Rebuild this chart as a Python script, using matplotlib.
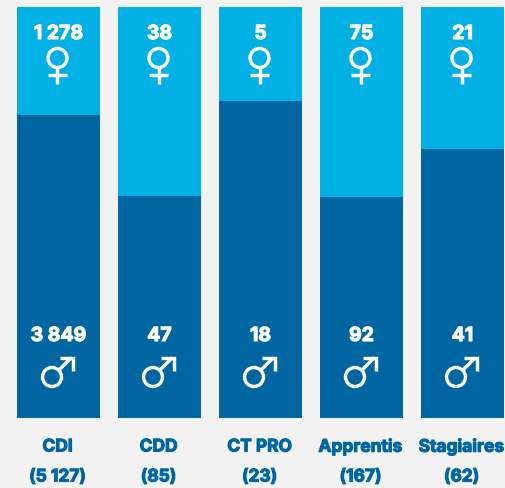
import matplotlib.pyplot as plt
import matplotlib.patheffects as pe
from matplotlib.patches import Circle
from matplotlib.transforms import Affine2D, ScaledTranslation

plt.rcParams['font.family'] = ['Inter', 'DejaVu Sans']

categories = ['CDI', 'CDD', 'CT PRO', 'Apprentis', 'Stagiaires']
totals = ['(5 127)', '(85)', '(23)', '(167)', '(62)']
women_labels = ['1 278', '38', '5', '75', '21']
men_labels = ['3 849', '47', '18', '92', '41']
# drawn share of the bar (in %)
men_share = [73.7, 54.0, 77.1, 53.8, 65.5]
women_share = [26.3, 46.0, 22.9, 46.2, 34.5]

BG = '#f2f2f2'
LIGHT = '#00b0e4'
DARK = '#0066a1'
PX = 0.72  # 1 px in points at dpi 100
LW = 3.4 * PX


def label(ax, txt, x, y, dx, dy, color, size):
    t = ax.annotate(txt, xy=(x, y), xytext=(dx * PX, dy * PX), textcoords='offset points',
                    ha='center', va='center', color=color, fontsize=size, fontweight='bold')
    # the original font is heavier than anything installed
    t.set_path_effects([pe.withStroke(linewidth=0.8, foreground=color)])


def line(ax, xs, ys, tr):
    ax.plot(xs, ys, color='white', lw=LW, transform=tr, solid_capstyle='butt',
            solid_joinstyle='miter', clip_on=False)


def venus(ax, x, y):
    # y offsets in px, measured down from the top of the bar
    tr = Affine2D().scale(1, -1) + ScaledTranslation(x, y, ax.transData)
    ax.add_patch(Circle((-1, 51), 9.5, fill=False, ec='white', lw=LW, transform=tr))
    line(ax, [-1, -1], [61, 77], tr)
    line(ax, [-10.5, 8], [68, 68], tr)


def mars(ax, x, y):
    # y offsets in px, measured up from the bottom of the bar
    tr = Affine2D() + ScaledTranslation(x, y, ax.transData)
    ax.add_patch(Circle((-6.5, 41), 9.5, fill=False, ec='white', lw=LW, transform=tr))
    line(ax, [0.5, 13], [48, 60.5], tr)
    line(ax, [1.5, 14, 14], [60, 60, 47], tr)


fig = plt.figure(figsize=(5.06, 4.88), dpi=100, facecolor=BG)
ax = fig.add_axes([0, 0, 1, 1])
ax.set_xlim(-58.5 / 101, (506 - 58.5) / 101)
ax.set_ylim(-70 / 4.11, 100 + 7 / 4.11)
ax.axis('off')

xs = range(len(categories))
ax.bar(xs, men_share, width=83 / 101, color=DARK)
ax.bar(xs, women_share, width=83 / 101, bottom=men_share, color=LIGHT)

for i in xs:
    label(ax, women_labels[i], i, 100, 0, -27, 'white', 14)
    label(ax, men_labels[i], i, 0, 0, 82, 'white', 14)
    venus(ax, i, 100)
    mars(ax, i, 0)
    label(ax, categories[i], i, 0, -1, -29, DARK, 12.5)
    label(ax, totals[i], i, 0, -1, -59, DARK, 12.5)

fig.savefig('out.png', dpi=100, facecolor=BG)
